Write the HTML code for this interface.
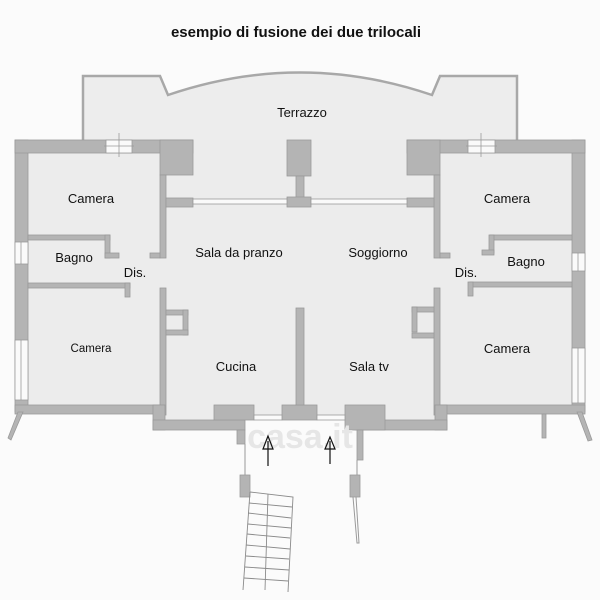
<!DOCTYPE html>
<html><head><meta charset="utf-8"><style>
html,body{margin:0;padding:0;background:#fbfbfb;}
svg{display:block}
text{font-family:"Liberation Sans",sans-serif;fill:#111}
</style></head><body>
<svg width="600" height="600" viewBox="0 0 600 600" xmlns="http://www.w3.org/2000/svg">
<rect width="600" height="600" fill="#fbfbfb"/>
<text x="296" y="37" font-size="15" font-weight="bold" text-anchor="middle">esempio di fusione dei due trilocali</text>
<!-- terrace floor -->
<path d="M83,76 L160,76 L168,95 Q300,50 432,95 L440,76 L517,76 L517,145 L83,145 Z" fill="#ededed" stroke="#a8a8a8" stroke-width="2.5"/>
<path d="M86,79 L158,79 L167,99 Q300,54 433,99 L442,79" fill="none" stroke="#ededed" stroke-width="1"/>
<!-- main floor -->
<path d="M15,140 L585,140 L585,412 L447,412 L447,428 L355,428 L355,420 L245,420 L245,428 L153,428 L153,412 L15,412 Z" fill="#ececec"/>
<g fill="#b4b4b4" stroke="#9a9a9a" stroke-width="0.8">
<!-- left -->
<rect x="15" y="140" width="13" height="272"/>
<rect x="15" y="140" width="178" height="13"/>
<rect x="160" y="140" width="33" height="35"/>
<rect x="160" y="175" width="6" height="83"/>
<rect x="166" y="198" width="27" height="9"/>
<rect x="287" y="140" width="24" height="36"/>
<rect x="296" y="176" width="8" height="22"/>
<rect x="287" y="197" width="24" height="10"/>
<rect x="28" y="235" width="82" height="5"/>
<rect x="105" y="235" width="5" height="23"/>
<rect x="105" y="253" width="14" height="5"/>
<rect x="150" y="253" width="10" height="5"/>
<rect x="28" y="283" width="102" height="5"/>
<rect x="125" y="283" width="5" height="14"/>
<rect x="160" y="288" width="6" height="127"/>
<rect x="166" y="310" width="22" height="5"/>
<rect x="183" y="310" width="5" height="25"/>
<rect x="166" y="330" width="22" height="5"/>
<rect x="15" y="405" width="145" height="9"/>
<rect x="153" y="405" width="12" height="25"/>
<rect x="153" y="420" width="92" height="10"/>
<rect x="214" y="405" width="40" height="15"/>
<rect x="282" y="405" width="35" height="15"/>
<rect x="296" y="308" width="8" height="97"/>
<rect x="237" y="430" width="8" height="14"/>
<rect x="240" y="475" width="10" height="22"/>
<!-- right -->
<rect x="572" y="140" width="13" height="272"/>
<rect x="407" y="140" width="178" height="13"/>
<rect x="407" y="140" width="33" height="35"/>
<rect x="434" y="175" width="6" height="83"/>
<rect x="407" y="198" width="27" height="9"/>
<rect x="490" y="235" width="82" height="5"/>
<rect x="489" y="235" width="5" height="18"/>
<rect x="482" y="250" width="12" height="5"/>
<rect x="440" y="253" width="10" height="5"/>
<rect x="470" y="282" width="102" height="5"/>
<rect x="468" y="282" width="5" height="14"/>
<rect x="434" y="288" width="6" height="127"/>
<rect x="412" y="307" width="22" height="5"/>
<rect x="412" y="307" width="5" height="25"/>
<rect x="412" y="333" width="22" height="5"/>
<rect x="440" y="405" width="145" height="9"/>
<rect x="435" y="405" width="12" height="25"/>
<rect x="355" y="420" width="92" height="10"/>
<rect x="345" y="405" width="40" height="25"/>
<rect x="357" y="430" width="6" height="30"/>
<rect x="350" y="475" width="10" height="22"/>
<rect x="542" y="414" width="4" height="24"/>
</g>
<!-- windows -->
<g fill="#fafafa" stroke="#9a9a9a" stroke-width="0.8">
<rect x="106" y="140" width="26" height="13"/>
<rect x="468" y="140" width="27" height="13"/>
<rect x="193" y="199" width="94" height="5"/>
<rect x="311" y="199" width="96" height="5"/>
<rect x="15" y="242" width="13" height="22"/>
<rect x="572" y="253" width="13" height="18"/>
<rect x="15" y="340" width="13" height="60"/>
<rect x="572" y="348" width="13" height="55"/>
<rect x="254" y="415" width="28" height="5"/>
<rect x="317" y="415" width="28" height="5"/>
</g>
<g stroke="#9a9a9a" stroke-width="0.8" fill="none">
<line x1="119" y1="133" x2="119" y2="157"/><line x1="104" y1="146" x2="134" y2="146"/>
<line x1="481" y1="133" x2="481" y2="157"/><line x1="466" y1="146" x2="497" y2="146"/>
<line x1="21" y1="340" x2="21" y2="400"/><line x1="578" y1="348" x2="578" y2="403"/>
<line x1="21" y1="242" x2="21" y2="264"/><line x1="578" y1="253" x2="578" y2="271"/>
</g>
<!-- angled outer bits -->
<polygon points="18,412 23,412 11,440 8,438" fill="#b4b4b4" stroke="#9a9a9a" stroke-width="0.8"/>
<polygon points="577,412 582,412 592,440 588,441" fill="#b4b4b4" stroke="#9a9a9a" stroke-width="0.8"/>
<!-- entrance lines -->
<g stroke="#9a9a9a" stroke-width="1" fill="none">
<line x1="245" y1="444" x2="245" y2="475"/>
<line x1="357" y1="460" x2="357" y2="475"/>
<polyline points="353,497 357,543 359,543 356,497"/>
</g>
<!-- stairs -->
<g stroke="#8a8a8a" stroke-width="0.9" fill="none">
<polyline points="250,492 293,497 288,592"/>
<line x1="250" y1="492" x2="243" y2="590"/>
<line x1="268" y1="494" x2="265" y2="590"/>
<line x1="249" y1="503" x2="292" y2="507"/>
<line x1="248" y1="513" x2="291" y2="518"/>
<line x1="248" y1="524" x2="291" y2="528"/>
<line x1="247" y1="534" x2="290" y2="538"/>
<line x1="246" y1="545" x2="290" y2="549"/>
<line x1="246" y1="556" x2="289" y2="559"/>
<line x1="245" y1="567" x2="289" y2="570"/>
<line x1="244" y1="578" x2="288" y2="581"/>
</g>
<!-- watermark -->
<text x="300" y="448" font-size="34" font-weight="bold" fill="#e4e4e4" style="fill:#e6e6e6" text-anchor="middle">casa.it</text>
<!-- arrows -->
<g stroke="#111" stroke-width="1.2" fill="none">
<line x1="268" y1="441" x2="268" y2="466"/><polygon points="268,436 263,449 273,449"/>
<line x1="330" y1="441" x2="330" y2="464"/><polygon points="330,437 325,449 335,449"/>
</g>
<!-- labels -->
<g font-size="13">
<text x="302" y="117" text-anchor="middle">Terrazzo</text>
<text x="91" y="203" text-anchor="middle">Camera</text>
<text x="507" y="203" text-anchor="middle">Camera</text>
<text x="74" y="262" text-anchor="middle">Bagno</text>
<text x="526" y="266" text-anchor="middle">Bagno</text>
<text x="135" y="277" text-anchor="middle">Dis.</text>
<text x="466" y="277" text-anchor="middle">Dis.</text>
<text x="239" y="257" text-anchor="middle">Sala da pranzo</text>
<text x="378" y="257" text-anchor="middle">Soggiorno</text>
<text x="91" y="352" text-anchor="middle" font-size="11.5">Camera</text>
<text x="507" y="353" text-anchor="middle">Camera</text>
<text x="236" y="371" text-anchor="middle">Cucina</text>
<text x="369" y="371" text-anchor="middle">Sala tv</text>
</g>
</svg>
</body></html>
